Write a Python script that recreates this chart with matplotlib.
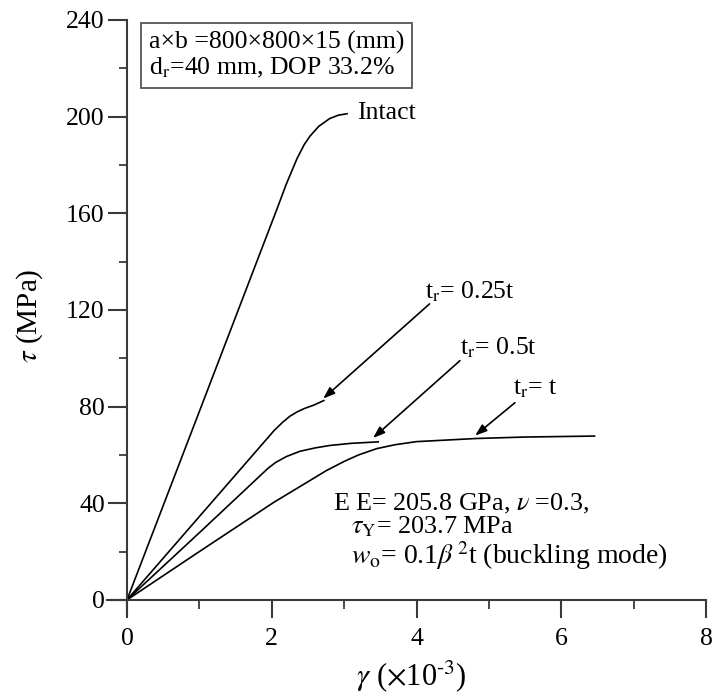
import matplotlib
matplotlib.use("Agg")
import matplotlib.pyplot as plt
from matplotlib.ticker import MultipleLocator

plt.rcParams['font.family'] = ['Liberation Serif', 'DejaVu Serif']
plt.rcParams['mathtext.fontset'] = 'stix'

# ---- data ----
intact_x = [0, 1.0, 2.07, 2.2, 2.35, 2.45, 2.53, 2.65, 2.8, 2.92, 3.04]
intact_y = [0, 78, 161.6, 172, 182.7, 188.5, 192.0, 196.0, 199.2, 200.6, 201.2]

q_x = [0, 1.0, 2.03, 2.15, 2.25, 2.35, 2.45, 2.58, 2.72]
q_y = [0, 34.5, 70, 73.5, 76, 77.8, 79.2, 80.6, 82.5]

h_x = [0, 1.0, 1.95, 2.05, 2.2, 2.39, 2.6, 2.8, 3.1, 3.47]
h_y = [0, 27.8, 54.5, 56.8, 59.3, 61.5, 62.9, 63.9, 64.8, 65.4]

f_x = [0, 1.0, 2.03, 2.76, 3.0, 3.2, 3.45, 3.7, 4.0, 4.83, 5.5, 6.46]
f_y = [0, 20, 40.4, 53.6, 57.3, 60.0, 62.6, 64.2, 65.5, 66.8, 67.4, 67.8]

x_ticks = [0, 2, 4, 6, 8]
y_ticks = [0, 40, 80, 120, 160, 200, 240]

fig = plt.figure(figsize=(7.12, 6.94), dpi=100)
ax = fig.add_axes([0.1499, 0.1182, 0.8417, 0.853])

lw = 1.2
for xs, ys in [(intact_x, intact_y), (q_x, q_y), (h_x, h_y), (f_x, f_y)]:
    ax.plot(xs, ys, color='black', lw=lw, solid_joinstyle='round')

ax.set_xlim(-0.28, 8)
ax.set_ylim(-5, 240)
for s in ['top', 'right']:
    ax.spines[s].set_visible(False)
ax.spines['left'].set_position(('data', 0))
ax.spines['bottom'].set_position(('data', 0))
for s in ['left', 'bottom']:
    ax.spines[s].set_linewidth(1.5)
    ax.spines[s].set_color('#3a3a3a')

ax.set_xticks(x_ticks)
ax.set_yticks(y_ticks)
ax.xaxis.set_minor_locator(MultipleLocator(1))
ax.yaxis.set_minor_locator(MultipleLocator(20))
ax.tick_params(axis='both', which='major', direction='out', width=1.5,
               color='#3a3a3a', labelsize=18.5)
ax.tick_params(axis='x', which='major', length=13, pad=7)
ax.tick_params(axis='y', which='major', length=14, pad=2)
ax.tick_params(axis='x', which='minor', length=6.5, width=1.3, color='#3a3a3a')
ax.tick_params(axis='y', which='minor', length=6, width=1.3, color='#3a3a3a')

ax.set_xlabel(r'$\gamma$ ($\times$10$^{\text{-3}}$)', fontsize=22)
ax.xaxis.set_label_coords(0.509, -0.078)
ax.set_ylabel(r'$\tau$ (MPa)', fontsize=21)
ax.yaxis.set_label_coords(-0.103, 0.5)

# info box
ax.text(0.3, 235.5, 'a\u00d7b =800\u00d7800\u00d715 (mm)\nd$_\\mathrm{r}$=40 mm, DOP 33.2%',
        fontsize=18.5, va='top', ha='left', linespacing=1.12,
        bbox=dict(boxstyle='square,pad=0.3', fc='white', ec='#555555', lw=1.3))

# labels / annotations
ax.text(3.18, 201.5, 'Intact', fontsize=18.5, va='center', ha='left')
arrow = dict(arrowstyle='-|>,head_length=0.7,head_width=0.25', color='black',
             lw=1.2, shrinkA=0, shrinkB=0)
ax.annotate('', xy=(2.71, 83.3), xytext=(4.18, 122.5), arrowprops=arrow)
ax.text(4.12, 127.5, 't$_\\mathrm{r}$= 0.25t', fontsize=18.5, va='center', ha='left')
ax.annotate('', xy=(3.4, 67), xytext=(4.6, 99), arrowprops=arrow)
ax.text(4.6, 104.5, 't$_\\mathrm{r}$= 0.5t', fontsize=18.5, va='center', ha='left')
ax.annotate('', xy=(4.81, 68), xytext=(5.36, 81.6), arrowprops=arrow)
ax.text(5.33, 87.5, 't$_\\mathrm{r}$= t', fontsize=18.5, va='center', ha='left')

ax.text(2.85, 39.5, 'E E= 205.8 GPa, $\\nu$ =0.3,', fontsize=18.8, va='center', ha='left')
ax.text(3.1, 30.2, '$\\tau_\\mathrm{Y}$= 203.7 MPa', fontsize=18.8, va='center', ha='left')
ax.text(3.1, 18.3, '$w_\\mathrm{o}$= 0.1$\\beta^{\\,2}$t (buckling mode)', fontsize=20,
        va='center', ha='left')

fig.savefig('out.png', dpi=100)
